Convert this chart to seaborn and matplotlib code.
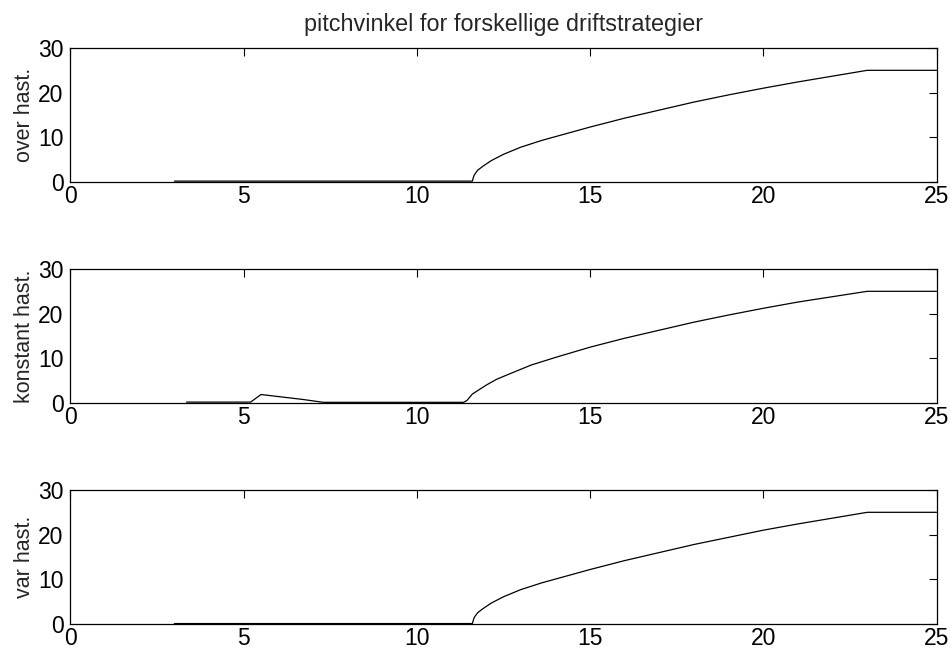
import matplotlib
matplotlib.use("Agg")
import matplotlib.pyplot as plt
import seaborn as sns
import pandas as pd

# ---- data ----
x_over = [3.0, 11.6, 11.65, 11.75, 11.9, 12.15, 12.5, 13.0, 13.6, 14.3, 15.0, 16.0,
          17.0, 18.0, 19.0, 20.0, 21.0, 22.0, 23.0, 25.0]
y_over = [0.2, 0.2, 1.5, 2.6, 3.5, 4.8, 6.2, 7.8, 9.3, 10.8, 12.3, 14.3,
          16.1, 17.9, 19.5, 21.0, 22.4, 23.7, 25.0, 25.0]

x_konst = [3.35, 5.2, 5.5, 6.7, 7.3, 11.35, 11.45, 11.6, 11.8, 12.0, 12.3, 12.7,
           13.3, 14.0, 15.0, 16.0, 17.0, 18.0, 19.0, 20.0, 21.0, 22.0, 23.0, 25.0]
y_konst = [0.2, 0.2, 1.9, 0.8, 0.15, 0.15, 0.6, 2.0, 3.0, 4.0, 5.3, 6.6,
           8.5, 10.2, 12.5, 14.5, 16.3, 18.1, 19.7, 21.2, 22.6, 23.8, 25.0, 25.0]

x_var = [3.0, 11.6, 11.65, 11.75, 11.9, 12.15, 12.5, 13.0, 13.6, 14.3, 15.0, 16.0,
         17.0, 18.0, 19.0, 20.0, 21.0, 22.0, 23.0, 25.0]
y_var = [0.1, 0.1, 1.4, 2.5, 3.4, 4.7, 6.1, 7.7, 9.2, 10.7, 12.2, 14.2,
         16.0, 17.8, 19.4, 21.0, 22.4, 23.7, 25.0, 25.0]

ylabels = ["over hast.", "konstant hast.", "var hast."]
title = "pitchvinkel for forskellige driftstrategier"
xticks = [0, 5, 10, 15, 20, 25]
yticks = [0, 10, 20, 30]

sns.set_style("white")
plt.rcParams['font.family'] = ['Liberation Sans', 'DejaVu Sans']

fig = plt.figure(figsize=(9.51, 6.5), dpi=100)
left, width, height = 0.0741, 0.9107, 0.2062
bottoms = [0.72, 0.38, 0.04]

series = [(x_over, y_over), (x_konst, y_konst), (x_var, y_var)]
for i, ((xs, ys), lab, b) in enumerate(zip(series, ylabels, bottoms)):
    ax = fig.add_axes([left, b, width, height])
    df = pd.DataFrame({"x": xs, "y": ys})
    sns.lineplot(data=df, x="x", y="y", ax=ax, color="black", linewidth=0.9,
                 estimator=None, sort=False)
    ax.set_xlim(0, 25)
    ax.set_ylim(0, 30)
    ax.set_xticks(xticks)
    ax.set_yticks(yticks)
    ax.set_xlabel("")
    ax.set_ylabel(lab, fontsize=15.5, labelpad=2)
    ax.tick_params(direction="in", length=6, width=0.8, top=True, right=True,
                   labelsize=16.5, colors="black")
    ax.tick_params(axis="x", pad=2)
    ax.tick_params(axis="y", pad=5)
    for sp in ax.spines.values():
        sp.set_visible(True)
        sp.set_color("black")
        sp.set_linewidth(0.9)
    if i == 0:
        ax.set_title(title, fontsize=16.8, pad=12)

fig.savefig("out.png", dpi=100, facecolor="white")
